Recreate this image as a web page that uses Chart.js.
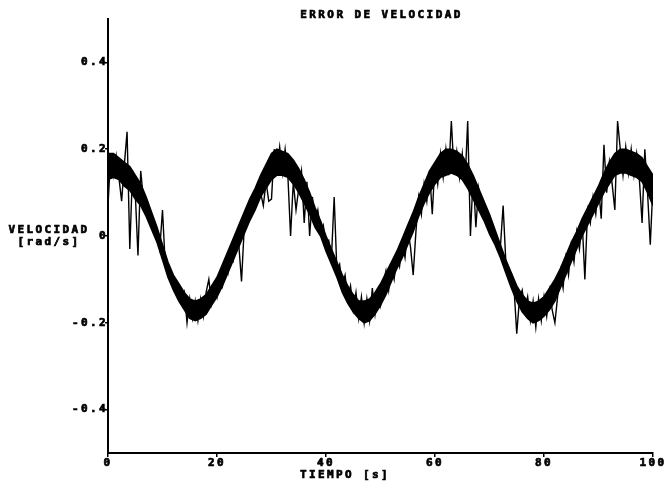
<!DOCTYPE html>
<html>
<head>
<meta charset="utf-8">
<script src="https://cdn.jsdelivr.net/npm/chart.js@4/dist/chart.umd.min.js"></script>
<style>
  html, body { margin: 0; padding: 0; background: #fff; }
  #wrap { width: 668px; height: 481px; }
</style>
</head>
<body>
<div id="wrap"><canvas id="c" width="668" height="481"></canvas></div>
<script>
// Sample step of the recorded signal (s)
const paso = 0.5;
// Velocity error, one value every 0.5 s from 0 to 100 s
const velocidad = [
  0.07, 0.19, 0.14, 0.185, 0.135, 0.08, 0.165, 0.24, -0.03, 0.15,
  0.10, -0.045, 0.15, 0.085, 0.08, 0.045, 0.04, 0.012, 0.005, -0.03,
  0.06, -0.065, -0.07, -0.10, -0.10, -0.13, -0.115, -0.15, -0.13, -0.20,
  -0.145, -0.19, -0.15, -0.195, -0.145, -0.185, -0.13, -0.10, -0.155, -0.11,
  -0.14, -0.09, -0.115, -0.06, -0.085, -0.03, -0.055, 0.0, -0.02, -0.105,
  0.02, 0.06, 0.045, 0.09, 0.07, 0.12, 0.10, 0.07, 0.125, 0.08,
  0.085, 0.20, 0.15, 0.205, 0.145, 0.20, 0.14, 0.0, 0.125, 0.06,
  0.11, 0.15, 0.03, 0.125, 0.0, 0.09, 0.035, 0.06, 0.01, 0.025,
  -0.02, -0.01, -0.05, 0.09, -0.08, -0.065, -0.115, -0.09, -0.145, -0.115,
  -0.17, -0.13, -0.19, -0.14, -0.20, -0.145, -0.195, -0.12, -0.18, -0.13,
  -0.16, -0.11, -0.08, -0.125, -0.07, -0.10, -0.045, -0.07, -0.015, -0.05,
  0.015, -0.025, -0.09, 0.01, 0.09, 0.05, 0.12, 0.08, 0.15, 0.05,
  0.17, 0.12, 0.19, 0.135, 0.20, 0.14, 0.265, 0.145, 0.195, 0.135,
  0.19, 0.12, 0.265, 0.0, 0.14, 0.02, 0.11, 0.065, 0.075, 0.04,
  0.045, 0.01, 0.01, -0.02, -0.025, 0.07, -0.06, -0.085, -0.085, -0.12,
  -0.225, -0.145, -0.125, -0.17, -0.14, -0.195, -0.15, -0.21, -0.145, -0.195,
  -0.14, -0.185, -0.125, -0.17, -0.20, -0.14, -0.08, -0.12, -0.05, -0.09,
  -0.02, -0.06, 0.01, -0.03, 0.035, -0.10, 0.06, 0.03, 0.09, 0.05,
  0.115, 0.04, 0.21, 0.10, 0.17, 0.12, 0.06, 0.265, 0.20, 0.14,
  0.205, 0.145, 0.20, 0.14, 0.19, 0.13, 0.03, 0.20, 0.10, -0.02,
  0.12
];
// Upper and lower edges of the dense noise band, one value per second (0..100 s)
const bandaSup = [
  0.19, 0.19, 0.18, 0.17, 0.16, 0.14, 0.12, 0.09, 0.055, 0.02,
  -0.02, -0.06, -0.09, -0.11, -0.13, -0.145, -0.15, -0.145, -0.135, -0.115,
  -0.095, -0.065, -0.035, -0.005, 0.025, 0.055, 0.085, 0.11, 0.14, 0.165,
  0.19, 0.20, 0.195, 0.19, 0.175, 0.155, 0.13, 0.10, 0.065, 0.035,
  0.0, -0.03, -0.06, -0.09, -0.115, -0.135, -0.15, -0.15, -0.145, -0.13,
  -0.11, -0.085, -0.06, -0.035, -0.005, 0.025, 0.055, 0.09, 0.12, 0.15,
  0.17, 0.19, 0.20, 0.20, 0.195, 0.185, 0.165, 0.14, 0.11, 0.08,
  0.05, 0.015, -0.02, -0.055, -0.085, -0.115, -0.135, -0.15, -0.155, -0.15,
  -0.14, -0.12, -0.10, -0.075, -0.045, -0.015, 0.01, 0.04, 0.065, 0.09,
  0.115, 0.145, 0.17, 0.19, 0.20, 0.20, 0.195, 0.19, 0.18, 0.16,
  0.14
];
const bandaInf = [
  0.13, 0.135, 0.13, 0.115, 0.105, 0.085, 0.07, 0.045, 0.015, -0.015,
  -0.055, -0.095, -0.125, -0.15, -0.17, -0.19, -0.195, -0.19, -0.18, -0.16,
  -0.14, -0.115, -0.085, -0.055, -0.025, 0.005, 0.035, 0.06, 0.09, 0.11,
  0.13, 0.14, 0.14, 0.135, 0.12, 0.10, 0.075, 0.05, 0.02, 0.0,
  -0.035, -0.065, -0.095, -0.13, -0.155, -0.175, -0.19, -0.20, -0.195, -0.18,
  -0.16, -0.135, -0.105, -0.075, -0.05, -0.02, 0.01, 0.045, 0.075, 0.10,
  0.12, 0.135, 0.14, 0.145, 0.14, 0.13, 0.11, 0.085, 0.06, 0.035,
  0.005, -0.02, -0.05, -0.085, -0.12, -0.15, -0.175, -0.19, -0.20, -0.195,
  -0.185, -0.17, -0.15, -0.12, -0.09, -0.06, -0.03, 0.0, 0.025, 0.05,
  0.075, 0.10, 0.12, 0.14, 0.145, 0.145, 0.14, 0.135, 0.125, 0.10,
  0.07
];
const tiempo = velocidad.map((_, i) => i * paso);
const segundos = bandaSup.map((_, i) => i);
const ticksX = [0, 20, 40, 60, 80, 100];
const ticksY = [-0.4, -0.2, 0, 0.2, 0.4];
const titulo = 'ERROR DE VELOCIDAD';
const tituloX = 'TIEMPO [s]';
const tituloY = ['VELOCIDAD', '[rad/s]'];

const FONT = 'bold 11px "DejaVu Sans Mono"';
const SPACING = '2.4px';

const textPlugin = {
  id: 'textos',
  beforeDraw(chart) {
    chart.ctx.letterSpacing = SPACING;
  },
  afterDraw(chart) {
    const ctx = chart.ctx;
    const a = chart.chartArea;
    ctx.save();
    ctx.letterSpacing = SPACING;
    ctx.fillStyle = '#000';
    ctx.strokeStyle = '#000';
    ctx.lineWidth = 0.7;
    ctx.font = FONT;
    ctx.textAlign = 'center';
    ctx.textBaseline = 'middle';
    const put = (s, x, y) => { ctx.fillText(s, x, y); ctx.strokeText(s, x, y); };
    put(titulo, (a.left + a.right) / 2 + 1, 15);
    put(tituloX, 345, 475);
    put(tituloY[0], 49, 230);
    put(tituloY[1], 49, 242);
    ctx.restore();
    ctx.letterSpacing = '0px';
  }
};

const tickFont = { family: 'DejaVu Sans Mono', size: 11, weight: 'bold' };

new Chart(document.getElementById('c'), {
  type: 'line',
  data: {
    datasets: [
      {
        data: tiempo.map((t, i) => ({ x: t, y: velocidad[i] })),
        borderColor: '#000',
        borderWidth: 1.4,
        pointRadius: 0,
        tension: 0,
        fill: false
      },
      {
        data: segundos.map((t, i) => ({ x: t, y: bandaSup[i] })),
        borderColor: '#000',
        backgroundColor: '#000',
        borderWidth: 1.5,
        pointRadius: 0,
        tension: 0,
        fill: '+1'
      },
      {
        data: segundos.map((t, i) => ({ x: t, y: bandaInf[i] })),
        borderColor: '#000',
        borderWidth: 1.5,
        pointRadius: 0,
        tension: 0,
        fill: false
      }
    ]
  },
  options: {
    responsive: false,
    animation: false,
    devicePixelRatio: 1,
    layout: { padding: { top: 19, right: 15, left: 0, bottom: 0 } },
    plugins: { legend: { display: false }, tooltip: { enabled: false }, title: { display: false } },
    scales: {
      x: {
        type: 'linear',
        min: 0, max: 100,
        afterBuildTicks: s => { s.ticks = ticksX.map(v => ({ value: v })); },
        afterFit: s => { s.height = 28; },
        grid: { drawOnChartArea: false, drawTicks: true, tickLength: 4, color: '#000', lineWidth: 1.5 },
        border: { display: true, color: '#000', width: 2 },
        ticks: {
          color: '#000', font: tickFont, textStrokeColor: '#000', textStrokeWidth: 0.7,
          padding: 0, maxRotation: 0, autoSkip: false,
          callback: v => String(v)
        }
      },
      y: {
        type: 'linear',
        min: -0.5, max: 0.5,
        afterBuildTicks: s => { s.ticks = ticksY.map(v => ({ value: v })); },
        afterFit: s => { s.width = 108; },
        grid: { drawOnChartArea: false, drawTicks: true, tickLength: 3, color: '#000', lineWidth: 1.5 },
        border: { display: true, color: '#000', width: 2 },
        ticks: {
          color: '#000', font: tickFont, textStrokeColor: '#000', textStrokeWidth: 0.7,
          padding: -3, autoSkip: false,
          callback: v => String(Math.round(v * 10) / 10)
        }
      }
    }
  },
  plugins: [textPlugin]
});
</script>
</body>
</html>
